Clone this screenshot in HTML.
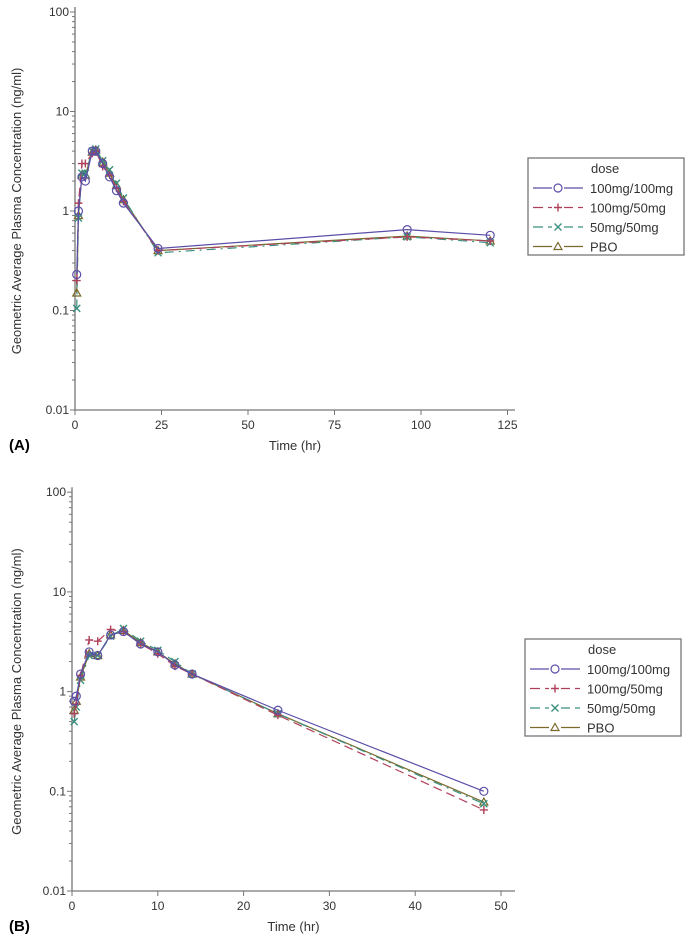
<!DOCTYPE html>
<html><head><meta charset="utf-8"><style>
body{margin:0;background:#fff;width:688px;height:946px;overflow:hidden}
svg{font-family:"Liberation Sans",sans-serif}
</style></head><body>
<svg id="chart" width="688" height="946" xmlns="http://www.w3.org/2000/svg"></svg>
<script>
const seriesNames=["100mg/100mg","100mg/50mg","50mg/50mg","PBO"];
const timesA=[0.5,1,2,3,5,6,8,10,12,14,24,96,120];
const a100_100=[0.23,1.0,2.2,2.0,4.0,4.0,3.0,2.2,1.6,1.2,0.42,0.65,0.57];
const a100_50=[0.2,1.2,3.0,3.0,3.8,4.0,2.8,2.3,1.7,1.25,0.4,0.55,0.5];
const a50_50=[0.105,0.85,2.4,2.4,4.0,4.2,3.2,2.6,1.9,1.35,0.38,0.55,0.48];
const aPBO=[0.15,0.9,2.3,2.3,3.9,4.1,3.1,2.4,1.8,1.3,0.4,0.56,0.5];
const timesB=[0.25,0.5,1,2,3,4.5,6,8,10,12,14,24,48];
const b100_100=[0.8,0.9,1.5,2.5,2.3,3.7,4.0,3.0,2.5,1.85,1.5,0.65,0.1];
const b100_50=[0.6,0.75,1.45,3.3,3.2,4.2,4.0,3.0,2.4,1.8,1.5,0.58,0.065];
const b50_50=[0.5,0.7,1.3,2.3,2.3,3.6,4.3,3.2,2.6,2.0,1.5,0.6,0.075];
const bPBO=[0.65,0.8,1.4,2.4,2.3,3.7,4.1,3.1,2.5,1.9,1.5,0.6,0.078];
const xTicksA=[0,25,50,75,100,125];
const xTicksB=[0,10,20,30,40,50];
const yTicks=[0.01,0.1,1,10,100];
const yLabels=["0.01","0.1","1","10","100"];

const NS="http://www.w3.org/2000/svg";
const svg=document.getElementById('chart');
function mk(t,at,p){const e=document.createElementNS(NS,t);for(const k in at)e.setAttribute(k,at[k]);(p||svg).appendChild(e);return e;}
const colors=["#5a4fa8","#b0405a","#3a8f80","#7a6a2a"];
const dashes=["none","9 5","9 5 2 5","none"];

function panel(cfg,times,series,xTicks,label,name){
  const g=mk('g',{});
  
  
  const X=v=>cfg.x0+v*cfg.sx;
  const Y=v=>cfg.yb-(Math.log10(v)+2)*cfg.dec;
  const ax=mk('path',{d:`M${cfg.x0} ${Y(100)-5}V${cfg.yb}H${cfg.xe}`,stroke:'#777',fill:'none','stroke-width':1.3},g);
  
  for(let d=-2;d<2;d++)for(let m=1;m<10;m++){const v=Math.pow(10,d)*m;const y=Y(v);
    mk('line',{x1:cfg.x0-(m==1?5:3),x2:cfg.x0,y1:y,y2:y,stroke:'#777'},g);}
  mk('line',{x1:cfg.x0-5,x2:cfg.x0,y1:Y(100),y2:Y(100),stroke:'#777'},g);
  yTicks.forEach((v,i)=>{const t=mk('text',{x:cfg.x0-6,y:Y(v)+4,'text-anchor':'end','font-size':12,fill:'#333'},g);t.textContent=yLabels[i];
    });
  xTicks.forEach(v=>{mk('line',{x1:X(v),x2:X(v),y1:cfg.yb,y2:cfg.yb+5,stroke:'#777'},g);
    const t=mk('text',{x:X(v),y:cfg.yb+19,'text-anchor':'middle','font-size':12,fill:'#333'},g);t.textContent=v;
    });
  const xt=mk('text',{x:(cfg.x0+cfg.xe)/2,y:cfg.yb+40,'text-anchor':'middle','font-size':13,fill:'#333'},g);xt.textContent='Time (hr)';
  
  const yc=(Y(100)+cfg.yb)/2;
  const yt=mk('text',{x:0,y:0,transform:`translate(21,${yc}) rotate(-90)`,'text-anchor':'middle','font-size':13,fill:'#333'},g);yt.textContent='Geometric Average Plasma Concentration (ng/ml)';
  
  const pl=mk('text',{x:9,y:cfg.yb+40,'font-size':15,'font-weight':'bold',fill:'#000'},g);pl.textContent=label;
  
  [3,2,1,0].forEach(si=>{const vals=series[si];
    const p=mk('polyline',{points:times.map((t,i)=>X(t)+','+Y(vals[i])).join(' '),fill:'none',stroke:colors[si],'stroke-width':1.2,'stroke-dasharray':dashes[si]},g);
    
    times.forEach((t,i)=>marker(g,si,X(t),Y(vals[i])));});
  legend(cfg.lx,cfg.ly);
}
function marker(g,si,x,y){let e;
  if(si==0)e=mk('circle',{cx:x,cy:y,r:4,fill:'none',stroke:colors[0],'stroke-width':1.2},g);
  else if(si==1)e=mk('path',{d:`M${x-4} ${y}H${x+4}M${x} ${y-4}V${y+4}`,stroke:colors[1],'stroke-width':1.4},g);
  else if(si==2)e=mk('path',{d:`M${x-3.5} ${y-3.5}L${x+3.5} ${y+3.5}M${x-3.5} ${y+3.5}L${x+3.5} ${y-3.5}`,stroke:colors[2],'stroke-width':1.4},g);
  else e=mk('path',{d:`M${x} ${y-4}L${x+4} ${y+3}H${x-4}Z`,fill:'none',stroke:colors[3],'stroke-width':1.2},g);
  }
function legend(x,y){const g=mk('g',{});
  
  mk('rect',{x:x,y:y,width:156,height:97,fill:'#fff',stroke:'#777','stroke-width':1.3},g);
  const t=mk('text',{x:x+63,y:y+15,'font-size':13,fill:'#333'},g);t.textContent='dose';
  seriesNames.forEach((n,i)=>{const yy=y+30+i*19.5;
    mk('line',{x1:x+5,x2:x+55,y1:yy,y2:yy,stroke:colors[i],'stroke-width':1.2,'stroke-dasharray':dashes[i]=='none'?'none':'10 5'},g);
    mk('rect',{x:x+24,y:yy-5,width:12,height:10,fill:'#fff'},g);
    marker(g,i,x+30,yy);
    const tx=mk('text',{x:x+62,y:yy+5,'font-size':13,fill:'#333'},g);tx.textContent=n;
    });
}
panel({x0:75,sx:3.46,xe:515,yb:410,dec:99.5,lx:528,ly:158},timesA,[a100_100,a100_50,a50_50,aPBO],xTicksA,'(A)','panel-a');
panel({x0:72,sx:8.58,xe:515,yb:891,dec:99.7,lx:525,ly:639},timesB,[b100_100,b100_50,b50_50,bPBO],xTicksB,'(B)','panel-b');
</script>
</body></html>
